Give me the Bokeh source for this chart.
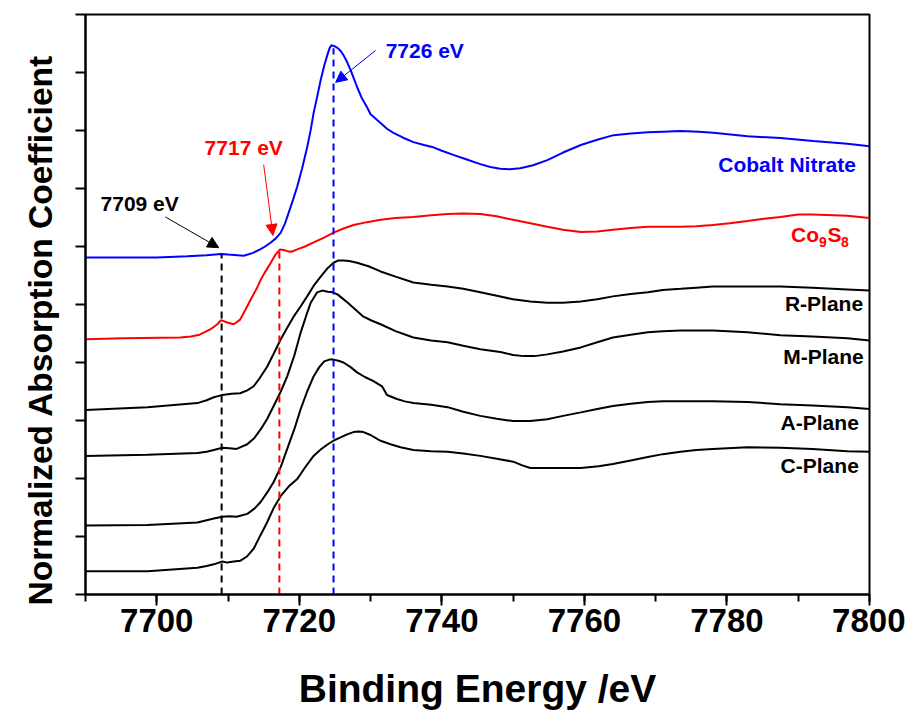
from bokeh.plotting import figure
from bokeh.models import Range1d, FixedTicker, Arrow, NormalHead, ColumnDataSource, Title
from bokeh.embed import file_html
from bokeh.resources import INLINE
from bokeh.core.properties import value

# ---------------- data (binding energy in eV, stacked normalized absorption) -------------
nitrate_x = [7690, 7700, 7704.3, 7707, 7709, 7710, 7712.2, 7713.5, 7714.5, 7715.2, 7716, 7716.7,
             7717.4, 7718, 7718.5, 7719.1, 7719.7, 7720.4, 7721.1, 7721.6, 7722, 7722.5, 7723,
             7723.5, 7724, 7724.25, 7724.5, 7725, 7725.4, 7725.8, 7726.2, 7726.7, 7727.2, 7727.7,
             7728.1, 7728.8, 7729.5, 7730, 7731.4, 7732.3, 7733.2, 7734.5, 7736, 7737.5, 7738.8,
             7740, 7741.6, 7743.5, 7745.4, 7746.8, 7748.2, 7749.5, 7751, 7752.8, 7754.8, 7757,
             7759.5, 7761.8, 7764.1, 7766.5, 7768.9, 7771, 7773.5, 7776, 7778.1, 7782.9, 7787.5,
             7792.1, 7796.9, 7800]
nitrate_y = [5.81, 5.81, 5.83, 5.85, 5.87, 5.86, 5.84, 5.89, 5.95, 6.00, 6.07, 6.14,
             6.24, 6.40, 6.58, 6.80, 7.03, 7.35, 7.71, 8.01, 8.30, 8.58, 8.87,
             9.12, 9.33, 9.42, 9.47, 9.45, 9.42, 9.37, 9.30, 9.18, 9.04, 8.88,
             8.75, 8.55, 8.40, 8.28, 8.13, 8.03, 7.96, 7.88, 7.80, 7.75, 7.71,
             7.65, 7.58, 7.50, 7.42, 7.37, 7.34, 7.33, 7.35, 7.40, 7.49, 7.62,
             7.75, 7.84, 7.92, 7.95, 7.97, 7.98, 7.99, 7.98, 7.96, 7.90, 7.87,
             7.82, 7.77, 7.73]

co9s8_x = [7690, 7695.3, 7703.3, 7704.8, 7706, 7707.5, 7708.5, 7709, 7709.9, 7710.8, 7711.7, 7712.4,
           7713.2, 7714, 7714.6, 7715.3, 7716, 7716.6, 7717.3, 7717.8, 7718.3, 7718.9, 7719.7, 7720.8,
           7722, 7723.4, 7724.8, 7726.2, 7727.6, 7729.5, 7731.4, 7733.5, 7736, 7738.5, 7740.8, 7743,
           7745.4, 7747.7, 7750, 7752.4, 7754.8, 7757, 7759.5, 7761.8, 7764, 7766.5, 7768.9, 7771,
           7773.5, 7775.7, 7778, 7780.4, 7782.9, 7785.2, 7787.5, 7790, 7792, 7796.9, 7800]
co9s8_y = [4.40, 4.42, 4.43, 4.45, 4.48, 4.57, 4.66, 4.73, 4.69, 4.66, 4.74, 4.90,
           5.09, 5.27, 5.43, 5.58, 5.72, 5.85, 5.95, 5.94, 5.92, 5.91, 5.95, 6.00,
           6.07, 6.15, 6.24, 6.31, 6.37, 6.42, 6.46, 6.49, 6.51, 6.54, 6.56, 6.57,
           6.56, 6.52, 6.46, 6.40, 6.34, 6.29, 6.25, 6.26, 6.29, 6.32, 6.34, 6.34,
           6.34, 6.35, 6.37, 6.40, 6.44, 6.48, 6.51, 6.55, 6.55, 6.53, 6.49]

r_x = [7690, 7698.7, 7705.7, 7707, 7708, 7708.6, 7709.2, 7710.5, 7711.7, 7712.7, 7713.6, 7714.5,
       7715.5, 7716.4, 7717.4, 7718.3, 7719.2, 7720.2, 7721.1, 7722, 7723, 7724, 7724.8, 7725.5,
       7726.2, 7727, 7728.1, 7729.7, 7731.4, 7733.5, 7736, 7738.5, 7740.8, 7743, 7745.4, 7747.7,
       7750, 7752.4, 7754.8, 7757, 7759.5, 7761.8, 7764, 7766.5, 7768.9, 7771, 7773.5, 7775.7,
       7778, 7782.9, 7787.5, 7792, 7796.9, 7800]
r_y = [3.18, 3.23, 3.30, 3.35, 3.40, 3.42, 3.44, 3.46, 3.47, 3.52, 3.59, 3.74,
       3.93, 4.15, 4.40, 4.60, 4.79, 4.97, 5.14, 5.32, 5.48, 5.63, 5.72, 5.76,
       5.76, 5.75, 5.72, 5.66, 5.57, 5.48, 5.38, 5.34, 5.31, 5.27, 5.21, 5.15,
       5.09, 5.05, 5.03, 5.03, 5.05, 5.09, 5.14, 5.18, 5.21, 5.25, 5.27, 5.29,
       5.31, 5.31, 5.31, 5.29, 5.26, 5.24]

m_x = [7690, 7698.7, 7705.7, 7707, 7708, 7709.2, 7710.2, 7711.2, 7712.7, 7713.7, 7714.6, 7715.5,
       7716.4, 7717.4, 7718.3, 7719.3, 7720.2, 7721, 7721.6, 7722.5, 7723.2, 7724, 7724.7, 7725.4,
       7726, 7726.8, 7727.9, 7729, 7730.2, 7731.4, 7733.5, 7736, 7738.5, 7740.8, 7743, 7745.4,
       7748.2, 7750, 7751.5, 7753, 7754.8, 7757, 7759.5, 7761.8, 7764, 7766.5, 7768.9, 7771,
       7773.5, 7778, 7782.9, 7787.5, 7792, 7796.9, 7800]
m_y = [2.39, 2.41, 2.44, 2.46, 2.49, 2.53, 2.52, 2.51, 2.59, 2.70, 2.85, 3.03,
       3.25, 3.50, 3.76, 4.12, 4.52, 4.82, 5.03, 5.21, 5.24, 5.22, 5.21, 5.17,
       5.11, 5.03, 4.91, 4.79, 4.72, 4.66, 4.54, 4.43, 4.38, 4.35, 4.29, 4.23,
       4.18, 4.13, 4.11, 4.11, 4.14, 4.19, 4.26, 4.35, 4.43, 4.48, 4.52, 4.54,
       4.55, 4.55, 4.52, 4.47, 4.45, 4.42, 4.38]

a_x = [7690, 7698.7, 7705.7, 7707, 7708, 7709.2, 7710.2, 7711.2, 7712.7, 7713.7, 7714.6, 7715.5,
       7716.4, 7717.4, 7718.3, 7719.3, 7720.2, 7721.1, 7722, 7722.8, 7723.5, 7724.2, 7724.8, 7725.5,
       7726.2, 7727.2, 7728.1, 7729.2, 7730.4, 7731.6, 7732.3, 7733.7, 7734.8, 7736, 7738.5, 7740.8,
       7743, 7745.4, 7747.7, 7750, 7752.4, 7754.8, 7757, 7759.5, 7761.8, 7764, 7766.5, 7768.9,
       7771, 7773.5, 7778, 7782.9, 7787.5, 7792, 7796.9, 7800]
a_y = [1.19, 1.20, 1.24, 1.28, 1.31, 1.34, 1.35, 1.34, 1.39, 1.48, 1.60, 1.76,
       1.94, 2.20, 2.51, 2.85, 3.20, 3.50, 3.76, 3.92, 4.02, 4.05, 4.05, 4.03,
       4.00, 3.92, 3.83, 3.75, 3.68, 3.59, 3.44, 3.37, 3.33, 3.30, 3.27, 3.23,
       3.15, 3.08, 3.03, 2.99, 2.99, 3.02, 3.08, 3.14, 3.20, 3.25, 3.29, 3.32,
       3.33, 3.33, 3.33, 3.32, 3.28, 3.26, 3.23, 3.20]

c_x = [7690, 7698.7, 7705.7, 7707, 7708, 7709.2, 7709.9, 7710.8, 7711.7, 7712.7, 7713.6, 7714.5,
       7715.5, 7716.4, 7717.4, 7718.5, 7719.7, 7720.8, 7722, 7723, 7724, 7724.9, 7725.8, 7726.7,
       7727.6, 7728.3, 7729, 7730, 7731.4, 7732.8, 7734.2, 7736, 7738.5, 7740.8, 7743, 7745.4,
       7747.7, 7750, 7751.2, 7752.4, 7755, 7759.5, 7762, 7764, 7766.5, 7768.9, 7771, 7773.5,
       7775.7, 7778, 7782.9, 7787.5, 7792, 7796.9, 7800]
c_y = [0.40, 0.40, 0.46, 0.49, 0.52, 0.57, 0.55, 0.57, 0.58, 0.66, 0.79, 1.01,
       1.25, 1.49, 1.70, 1.86, 1.99, 2.19, 2.39, 2.50, 2.59, 2.66, 2.71, 2.76,
       2.80, 2.81, 2.80, 2.75, 2.65, 2.59, 2.54, 2.49, 2.47, 2.46, 2.43, 2.39,
       2.34, 2.29, 2.23, 2.18, 2.18, 2.18, 2.21, 2.25, 2.31, 2.37, 2.42, 2.46,
       2.49, 2.51, 2.54, 2.53, 2.51, 2.47, 2.46]

# reference energies (dashed markers)
mark_x = [7709.1, 7717.2, 7724.8]
mark_top = [5.86, 5.95, 9.42]
mark_colors = ["black", "red", "blue"]
mark_text = ["7709 eV", "7717 eV", "7726 eV"]
mark_text_x = [7697.6, 7712.2, 7737.6]
mark_text_y = [6.74, 7.70, 9.38]
arrow_x0 = [7701.2, 7715.0, 7730.7]
arrow_y0 = [6.51, 7.41, 9.38]
arrow_x1 = [7708.7, 7716.3, 7725.1]
arrow_y1 = [5.98, 6.19, 8.83]

# curve names
name_text = ["Cobalt Nitrate", "R-Plane", "M-Plane", "A-Plane", "C-Plane"]
name_colors = ["blue", "black", "black", "black", "black"]
name_x = [7798.1, 7799.1, 7799.2, 7798.5, 7798.5]
name_y = [7.41, 5.02, 4.11, 2.97, 2.23]
co_text = ["Co", "9", "S", "8"]
co_x = [7789.0, 7792.9, 7794.1, 7796.0]
co_y = [6.20, 6.07, 6.20, 6.07]
co_size = ["21px", "14px", "21px", "14px"]

x_ticks = [7700, 7720, 7740, 7760, 7780, 7800]
x_minor = [7690, 7700, 7710, 7720, 7730, 7740, 7750, 7760, 7770, 7780, 7790, 7800]
y_ticks = [0, 1, 2, 3, 4, 5, 6, 7, 8, 9, 10]
y_title = "Normalized Absorption Coefficient"

FONT = "Liberation Sans"

p = figure(width=905, height=713, output_backend="svg", toolbar_location=None,
           x_range=Range1d(7690, 7800), y_range=Range1d(0, 10),
           min_border_left=85, min_border_right=36, min_border_top=14, min_border_bottom=119)
p.grid.visible = False
p.outline_line_color = "black"
p.outline_line_width = 2
p.background_fill_color = "white"

xa = p.xaxis[0]
xa.ticker = FixedTicker(ticks=x_ticks, minor_ticks=x_minor)
xa.axis_line_width = 2
xa.major_tick_line_width = 2
xa.minor_tick_line_width = 2
xa.major_tick_out = 11
xa.major_tick_in = 0
xa.minor_tick_out = 7
xa.minor_tick_in = 0
xa.major_label_text_font = FONT
xa.major_label_text_font_style = "bold"
xa.major_label_text_font_size = "33px"
xa.major_label_text_color = "black"
xa.major_label_standoff = 3
xa.axis_label = "Binding Energy /eV"
xa.axis_label_text_font = FONT
xa.axis_label_text_font_style = "bold"
xa.axis_label_text_font_size = "39px"
xa.axis_label_text_color = "black"
xa.axis_label_standoff = 32

ya = p.yaxis[0]
ya.ticker = FixedTicker(ticks=y_ticks, minor_ticks=[])
ya.axis_line_width = 2
ya.major_tick_line_width = 2
ya.major_tick_out = 10
ya.major_tick_in = 0
ya.major_label_overrides = {t: "" for t in y_ticks}

p.add_layout(Title(text=y_title, align="left", offset=-11, standoff=34,
                   text_font=FONT, text_font_style="bold", text_font_size="33.5px",
                   text_color="black"), "left")

# curves
p.line(nitrate_x, nitrate_y, line_color="blue", line_width=2)
p.line(co9s8_x, co9s8_y, line_color="red", line_width=2)
for xs, ys in [(r_x, r_y), (m_x, m_y), (a_x, a_y), (c_x, c_y)]:
    p.line(xs, ys, line_color="black", line_width=2)

# dashed marker lines
msrc = ColumnDataSource(dict(x=mark_x, y0=[0] * len(mark_x), y1=mark_top, c=mark_colors))
p.segment(x0="x", y0="y0", x1="x", y1="y1", line_color="c", line_dash="7 5", line_width=2, source=msrc)

for i in range(len(mark_x)):
    c = mark_colors[i]
    p.add_layout(Arrow(end=NormalHead(size=11, fill_color=c, line_color=c),
                       x_start=arrow_x0[i], y_start=arrow_y0[i], x_end=arrow_x1[i], y_end=arrow_y1[i],
                       line_color=c, line_width=1))

tsrc = ColumnDataSource(dict(x=mark_text_x, y=mark_text_y, t=mark_text, c=mark_colors))
p.text(x="x", y="y", text="t", text_color="c", source=tsrc, text_font=value(FONT),
       text_font_style="bold", text_font_size="21px", text_align="center", text_baseline="middle")

nsrc = ColumnDataSource(dict(x=name_x, y=name_y, t=name_text, c=name_colors))
p.text(x="x", y="y", text="t", text_color="c", source=nsrc, text_font=value(FONT),
       text_font_style="bold", text_font_size="21px", text_align="right", text_baseline="middle")

csrc = ColumnDataSource(dict(x=co_x, y=co_y, t=co_text, s=co_size))
p.text(x="x", y="y", text="t", text_color="red", source=csrc, text_font=value(FONT),
       text_font_style="bold", text_font_size="s", text_align="left", text_baseline="middle")

open("out.html", "w").write(file_html(p, INLINE))
